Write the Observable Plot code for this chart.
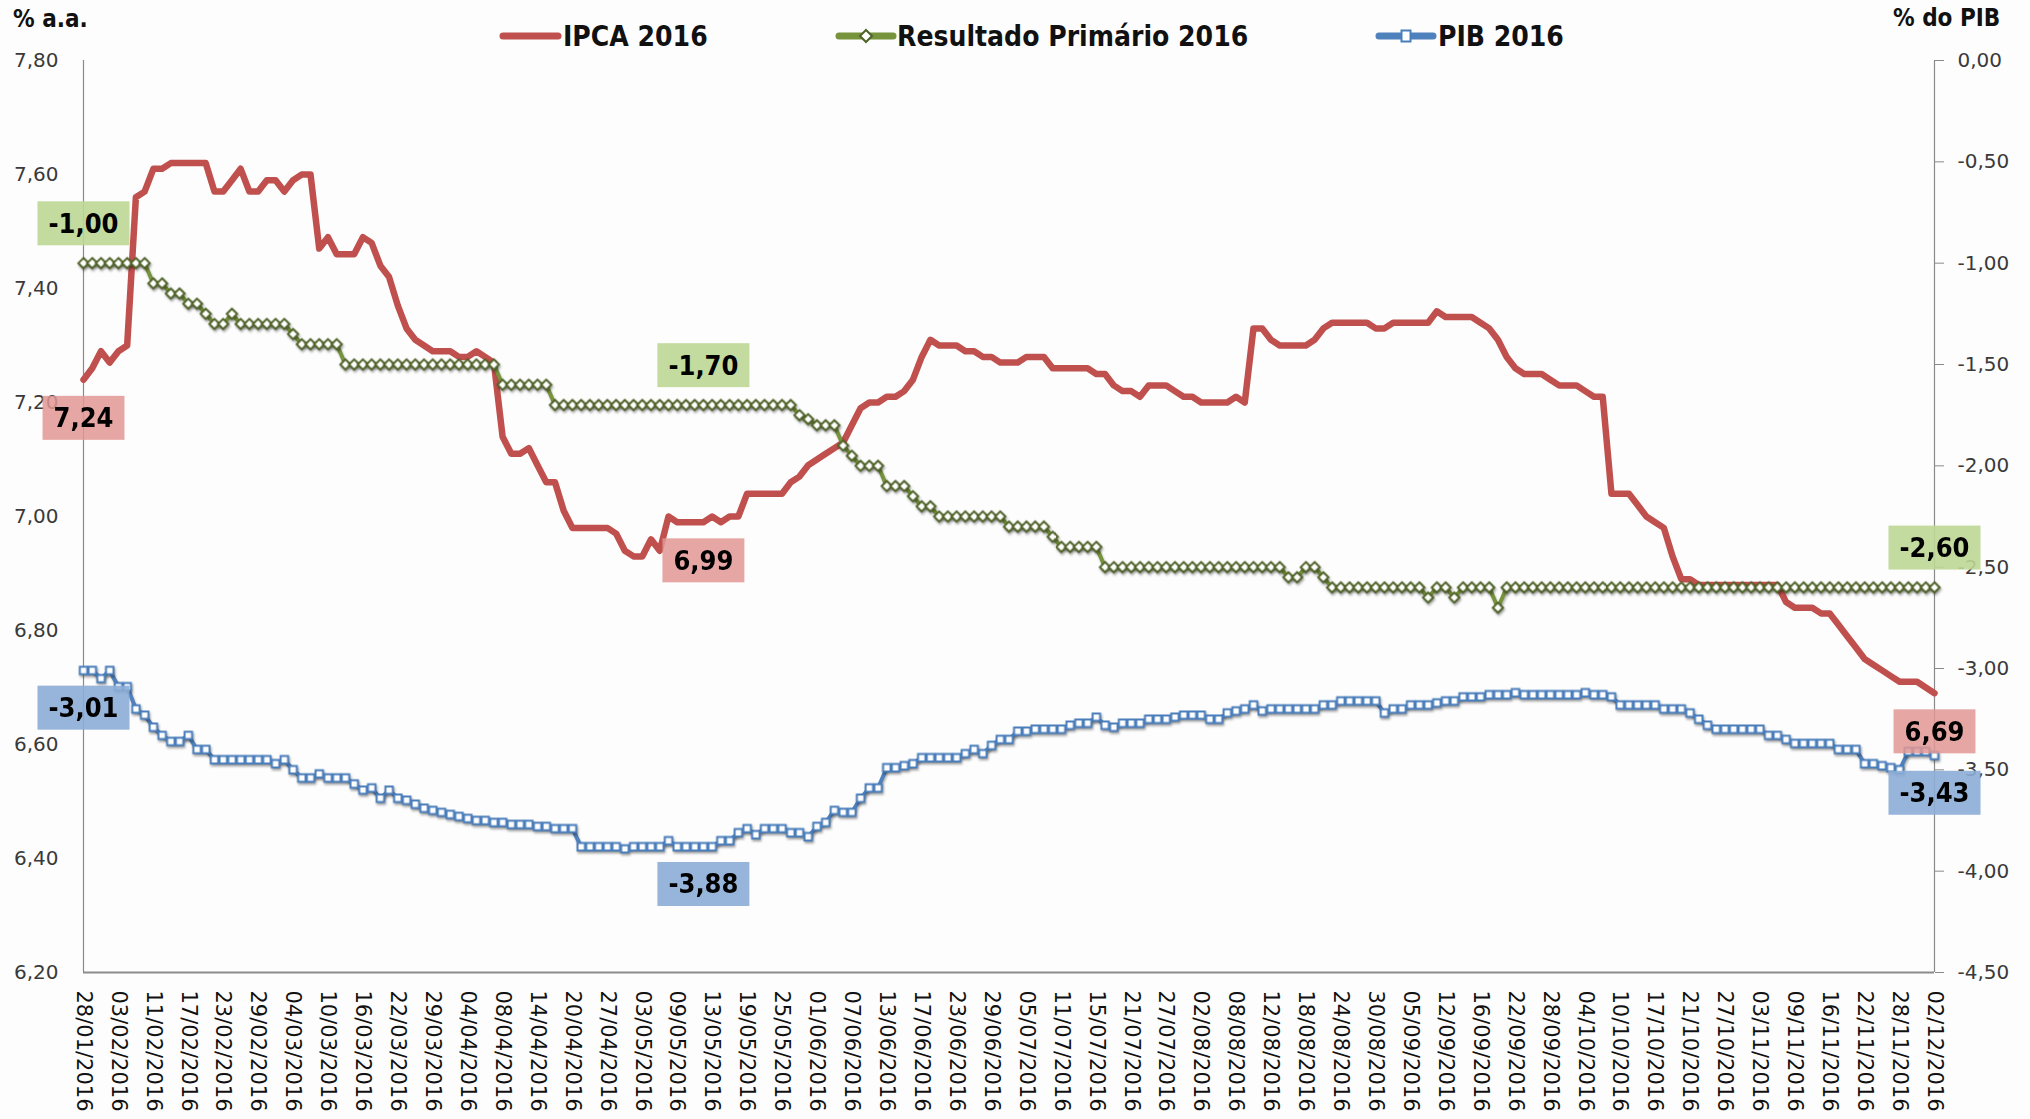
<!DOCTYPE html>
<html><head><meta charset="utf-8">
<script src="https://cdn.jsdelivr.net/npm/d3@7"></script>
<script src="https://cdn.jsdelivr.net/npm/@observablehq/plot@0.6"></script>
<style>
html,body{margin:0;padding:0;background:#fff;overflow:hidden;}
#wrap{position:relative;width:2030px;height:1119px;background:#fdfdfd;}
#overlay{position:absolute;left:0;top:0;}
</style></head><body><div id="wrap"></div>
<script>
// Business days of the series (categories)
const dates = [
"28/01/2016","29/01/2016",
"01/02/2016","02/02/2016","03/02/2016","04/02/2016","05/02/2016","10/02/2016","11/02/2016","12/02/2016","15/02/2016","16/02/2016","17/02/2016","18/02/2016","19/02/2016","22/02/2016","23/02/2016","24/02/2016","25/02/2016","26/02/2016","29/02/2016",
"01/03/2016","02/03/2016","03/03/2016","04/03/2016","07/03/2016","08/03/2016","09/03/2016","10/03/2016","11/03/2016","14/03/2016","15/03/2016","16/03/2016","17/03/2016","18/03/2016","21/03/2016","22/03/2016","23/03/2016","24/03/2016","28/03/2016","29/03/2016","30/03/2016","31/03/2016",
"01/04/2016","04/04/2016","05/04/2016","06/04/2016","07/04/2016","08/04/2016","11/04/2016","12/04/2016","13/04/2016","14/04/2016","15/04/2016","18/04/2016","19/04/2016","20/04/2016","22/04/2016","25/04/2016","26/04/2016","27/04/2016","28/04/2016","29/04/2016",
"02/05/2016","03/05/2016","04/05/2016","05/05/2016","06/05/2016","09/05/2016","10/05/2016","11/05/2016","12/05/2016","13/05/2016","16/05/2016","17/05/2016","18/05/2016","19/05/2016","20/05/2016","23/05/2016","24/05/2016","25/05/2016","27/05/2016","30/05/2016","31/05/2016",
"01/06/2016","02/06/2016","03/06/2016","06/06/2016","07/06/2016","08/06/2016","09/06/2016","10/06/2016","13/06/2016","14/06/2016","15/06/2016","16/06/2016","17/06/2016","20/06/2016","21/06/2016","22/06/2016","23/06/2016","24/06/2016","27/06/2016","28/06/2016","29/06/2016","30/06/2016",
"01/07/2016","04/07/2016","05/07/2016","06/07/2016","07/07/2016","08/07/2016","11/07/2016","12/07/2016","13/07/2016","14/07/2016","15/07/2016","18/07/2016","19/07/2016","20/07/2016","21/07/2016","22/07/2016","25/07/2016","26/07/2016","27/07/2016","28/07/2016","29/07/2016",
"01/08/2016","02/08/2016","03/08/2016","04/08/2016","05/08/2016","08/08/2016","09/08/2016","10/08/2016","11/08/2016","12/08/2016","15/08/2016","16/08/2016","17/08/2016","18/08/2016","19/08/2016","22/08/2016","23/08/2016","24/08/2016","25/08/2016","26/08/2016","29/08/2016","30/08/2016","31/08/2016",
"01/09/2016","02/09/2016","05/09/2016","06/09/2016","08/09/2016","09/09/2016","12/09/2016","13/09/2016","14/09/2016","15/09/2016","16/09/2016","19/09/2016","20/09/2016","21/09/2016","22/09/2016","23/09/2016","26/09/2016","27/09/2016","28/09/2016","29/09/2016","30/09/2016",
"03/10/2016","04/10/2016","05/10/2016","06/10/2016","07/10/2016","10/10/2016","11/10/2016","13/10/2016","14/10/2016","17/10/2016","18/10/2016","19/10/2016","20/10/2016","21/10/2016","24/10/2016","25/10/2016","26/10/2016","27/10/2016","28/10/2016","31/10/2016",
"01/11/2016","03/11/2016","04/11/2016","07/11/2016","08/11/2016","09/11/2016","10/11/2016","11/11/2016","14/11/2016","16/11/2016","17/11/2016","18/11/2016","21/11/2016","22/11/2016","23/11/2016","24/11/2016","25/11/2016","28/11/2016","29/11/2016","30/11/2016",
"01/12/2016","02/12/2016"];

// IPCA 2016 expectation (% a.a., left axis)
const ipca = [
7.24,7.26,7.29,7.27,7.29,7.30,7.56,7.57,7.61,7.61,
7.62,7.62,7.62,7.62,7.62,7.57,7.57,7.59,7.61,7.57,
7.57,7.59,7.59,7.57,7.59,7.60,7.60,7.47,7.49,7.46,
7.46,7.46,7.49,7.48,7.44,7.42,7.37,7.33,7.31,7.30,
7.29,7.29,7.29,7.28,7.28,7.29,7.28,7.27,7.14,7.11,
7.11,7.12,7.09,7.06,7.06,7.01,6.98,6.98,6.98,6.98,
6.98,6.97,6.94,6.93,6.93,6.96,6.94,7.00,6.99,6.99,
6.99,6.99,7.00,6.99,7.00,7.00,7.04,7.04,7.04,7.04,
7.04,7.06,7.07,7.09,7.10,7.11,7.12,7.13,7.16,7.19,
7.20,7.20,7.21,7.21,7.22,7.24,7.28,7.31,7.30,7.30,
7.30,7.29,7.29,7.28,7.28,7.27,7.27,7.27,7.28,7.28,
7.28,7.26,7.26,7.26,7.26,7.26,7.25,7.25,7.23,7.22,
7.22,7.21,7.23,7.23,7.23,7.22,7.21,7.21,7.20,7.20,
7.20,7.20,7.21,7.20,7.33,7.33,7.31,7.30,7.30,7.30,
7.30,7.31,7.33,7.34,7.34,7.34,7.34,7.34,7.33,7.33,
7.34,7.34,7.34,7.34,7.34,7.36,7.35,7.35,7.35,7.35,
7.34,7.33,7.31,7.28,7.26,7.25,7.25,7.25,7.24,7.23,
7.23,7.23,7.22,7.21,7.21,7.04,7.04,7.04,7.02,7.00,
6.99,6.98,6.93,6.89,6.89,6.88,6.88,6.88,6.88,6.88,
6.88,6.88,6.88,6.88,6.88,6.85,6.84,6.84,6.84,6.83,
6.83,6.81,6.79,6.77,6.75,6.74,6.73,6.72,6.71,6.71,
6.71,6.70,6.69];

// Resultado Primário 2016 (% do PIB, right axis)
const primario = [
-1.00,-1.00,-1.00,-1.00,-1.00,-1.00,-1.00,-1.00,-1.10,-1.10,
-1.15,-1.15,-1.20,-1.20,-1.25,-1.30,-1.30,-1.25,-1.30,-1.30,
-1.30,-1.30,-1.30,-1.30,-1.35,-1.40,-1.40,-1.40,-1.40,-1.40,
-1.50,-1.50,-1.50,-1.50,-1.50,-1.50,-1.50,-1.50,-1.50,-1.50,
-1.50,-1.50,-1.50,-1.50,-1.50,-1.50,-1.50,-1.50,-1.60,-1.60,
-1.60,-1.60,-1.60,-1.60,-1.70,-1.70,-1.70,-1.70,-1.70,-1.70,
-1.70,-1.70,-1.70,-1.70,-1.70,-1.70,-1.70,-1.70,-1.70,-1.70,
-1.70,-1.70,-1.70,-1.70,-1.70,-1.70,-1.70,-1.70,-1.70,-1.70,
-1.70,-1.70,-1.75,-1.77,-1.80,-1.80,-1.80,-1.90,-1.95,-2.00,
-2.00,-2.00,-2.10,-2.10,-2.10,-2.15,-2.20,-2.20,-2.25,-2.25,
-2.25,-2.25,-2.25,-2.25,-2.25,-2.25,-2.30,-2.30,-2.30,-2.30,
-2.30,-2.35,-2.40,-2.40,-2.40,-2.40,-2.40,-2.50,-2.50,-2.50,
-2.50,-2.50,-2.50,-2.50,-2.50,-2.50,-2.50,-2.50,-2.50,-2.50,
-2.50,-2.50,-2.50,-2.50,-2.50,-2.50,-2.50,-2.50,-2.55,-2.55,
-2.50,-2.50,-2.55,-2.60,-2.60,-2.60,-2.60,-2.60,-2.60,-2.60,
-2.60,-2.60,-2.60,-2.60,-2.65,-2.60,-2.60,-2.65,-2.60,-2.60,
-2.60,-2.60,-2.70,-2.60,-2.60,-2.60,-2.60,-2.60,-2.60,-2.60,
-2.60,-2.60,-2.60,-2.60,-2.60,-2.60,-2.60,-2.60,-2.60,-2.60,
-2.60,-2.60,-2.60,-2.60,-2.60,-2.60,-2.60,-2.60,-2.60,-2.60,
-2.60,-2.60,-2.60,-2.60,-2.60,-2.60,-2.60,-2.60,-2.60,-2.60,
-2.60,-2.60,-2.60,-2.60,-2.60,-2.60,-2.60,-2.60,-2.60,-2.60,
-2.60,-2.60,-2.60];

// PIB 2016 (right axis)
const pib = [
-3.01,-3.01,-3.05,-3.01,-3.09,-3.09,-3.20,-3.23,-3.29,-3.33,
-3.36,-3.36,-3.33,-3.40,-3.40,-3.45,-3.45,-3.45,-3.45,-3.45,
-3.45,-3.45,-3.47,-3.45,-3.50,-3.54,-3.54,-3.52,-3.54,-3.54,
-3.54,-3.57,-3.60,-3.59,-3.64,-3.60,-3.64,-3.65,-3.67,-3.69,
-3.70,-3.71,-3.72,-3.73,-3.74,-3.75,-3.75,-3.76,-3.76,-3.77,
-3.77,-3.77,-3.78,-3.78,-3.79,-3.79,-3.79,-3.88,-3.88,-3.88,
-3.88,-3.88,-3.89,-3.88,-3.88,-3.88,-3.88,-3.85,-3.88,-3.88,
-3.88,-3.88,-3.88,-3.85,-3.85,-3.81,-3.79,-3.82,-3.79,-3.79,
-3.79,-3.81,-3.81,-3.83,-3.78,-3.76,-3.70,-3.71,-3.71,-3.64,
-3.59,-3.59,-3.49,-3.49,-3.48,-3.47,-3.44,-3.44,-3.44,-3.44,
-3.44,-3.42,-3.40,-3.42,-3.38,-3.35,-3.35,-3.31,-3.31,-3.30,
-3.30,-3.30,-3.30,-3.28,-3.27,-3.27,-3.24,-3.28,-3.29,-3.27,
-3.27,-3.27,-3.25,-3.25,-3.25,-3.24,-3.23,-3.23,-3.23,-3.25,
-3.25,-3.22,-3.21,-3.20,-3.18,-3.21,-3.20,-3.20,-3.20,-3.20,
-3.20,-3.20,-3.18,-3.18,-3.16,-3.16,-3.16,-3.16,-3.16,-3.22,
-3.20,-3.20,-3.18,-3.18,-3.18,-3.17,-3.16,-3.16,-3.14,-3.14,
-3.14,-3.13,-3.13,-3.13,-3.12,-3.13,-3.13,-3.13,-3.13,-3.13,
-3.13,-3.13,-3.12,-3.13,-3.13,-3.14,-3.18,-3.18,-3.18,-3.18,
-3.18,-3.20,-3.20,-3.20,-3.22,-3.25,-3.28,-3.30,-3.30,-3.30,
-3.30,-3.30,-3.30,-3.33,-3.33,-3.35,-3.37,-3.37,-3.37,-3.37,
-3.37,-3.40,-3.40,-3.40,-3.47,-3.47,-3.48,-3.49,-3.50,-3.41,
-3.41,-3.41,-3.43];

const leftTicks = [6.20,6.40,6.60,6.80,7.00,7.20,7.40,7.60,7.80];
const rightTicks = [0,-0.5,-1,-1.5,-2,-2.5,-3,-3.5,-4,-4.5];
const labelIdx = [0, 71, 212];
const tickIdx = d3.range(0, dates.length, 4);

const W = 2030, H = 1119;
const L = 83, R = 1934, T = 60, B = 972;
const k = (7.80 - 6.20) / 4.5;
const toLeft = r => 7.80 + r * k;
const fromLeft = v => Math.round(((v - 7.80) / k) * 100) / 100;
const fmt = v => (Math.abs(v) < 1e-9 ? 0 : v).toFixed(2).replace(".", ",");

const rows = dates.map((d, i) => ({i, d, ipca: ipca[i], prim: primario[i], pib: pib[i]}));
const labRows = labelIdx.map(i => rows[i]);

const plot = Plot.plot({
  width: W, height: H,
  marginLeft: L, marginRight: W - R, marginTop: T, marginBottom: H - B,
  x: {type: "linear", domain: [0, dates.length - 1], axis: null, label: null},
  y: {domain: [6.2, 7.8], axis: null, label: null},
  style: {fontFamily: "DejaVu Sans", fontSize: "20px", color: "#404040", background: "transparent", overflow: "visible"},
  marks: [
    Plot.ruleX([0], {stroke: "#8a8a8a", strokeWidth: 1.2}),
    Plot.ruleX([dates.length - 1], {stroke: "#8a8a8a", strokeWidth: 1.2}),
    Plot.axisY({anchor: "left", label: null, ticks: leftTicks, tickFormat: fmt, tickSize: 0, tickPadding: 25, fontSize: 20, fill: "#3a3a3a"}),
    Plot.axisY({anchor: "right", label: null, ticks: rightTicks.map(toLeft), tickFormat: v => fmt(fromLeft(v)), tickSize: 9, tickPadding: 14, stroke: "#8a8a8a", fontSize: 20, fill: "#3a3a3a"}),
    Plot.axisX({anchor: "bottom", label: null, ticks: tickIdx, tickFormat: i => dates[i], tickRotate: 90, tickSize: 0, tickPadding: 18, fontSize: 21, fill: "#111"}),
    Plot.ruleY([6.2], {stroke: "#8c8c8c", strokeWidth: 2.2}),
    Plot.line(rows, {x: "i", y: "ipca", stroke: "#c0504d", strokeWidth: 6.5, strokeLinejoin: "round", strokeLinecap: "round"}),
    Plot.line(rows, {x: "i", y: d => toLeft(d.prim), stroke: "#77933c", strokeWidth: 4, strokeLinejoin: "round"}),
    Plot.dot(rows, {x: "i", y: d => toLeft(d.prim), symbol: "diamond2", r: 4.6, fill: "white", stroke: "#4f6228", strokeWidth: 2}),
    Plot.line(rows, {x: "i", y: d => toLeft(d.pib), stroke: "#4f81bd", strokeWidth: 4, strokeLinejoin: "round"}),
    Plot.dot(rows, {x: "i", y: d => toLeft(d.pib), symbol: "square", r: 4.2, fill: "white", stroke: "#4a7ebb", strokeWidth: 2}),
    Plot.text(labRows, {x: "i", y: "ipca", text: d => fmt(d.ipca), dy: 39, fontWeight: "bold", fontSize: 27, fill: "#000"}),
    Plot.text(labRows, {x: "i", y: d => toLeft(d.prim), text: d => fmt(d.prim), dy: -39, fontWeight: "bold", fontSize: 27, fill: "#000"}),
    Plot.text(labRows, {x: "i", y: d => toLeft(d.pib), text: d => fmt(d.pib), dy: 38, fontWeight: "bold", fontSize: 27, fill: "#000"})
  ]
});

const wrap = document.getElementById("wrap");
wrap.appendChild(plot);

const cond = "'DejaVu Sans Condensed', 'DejaVu Sans', sans-serif";
plot.querySelectorAll('g[aria-label="dot"]').forEach(g => g.style.filter = "drop-shadow(1px 2px 1.2px rgba(0,0,0,0.35))");
const lines = plot.querySelectorAll('g[aria-label="line"]');
lines.forEach((g, j) => { if (j > 0) g.style.filter = "drop-shadow(1px 2px 1.2px rgba(0,0,0,0.3))"; });

// boxes behind data labels
const boxColors = ["rgba(224,150,148,0.85)", "rgba(190,215,150,0.9)", "rgba(140,173,214,0.9)"];
const svgns = "http://www.w3.org/2000/svg";
plot.querySelectorAll('g[aria-label="text"]').forEach((g, j) => {
  g.querySelectorAll("text").forEach(t => {
    t.style.fontFamily = cond;
    t.style.fontStretch = "condensed";
    const b = t.getBBox();
    const r = document.createElementNS(svgns, "rect");
    const w = b.width + 22, h = 44;
    r.setAttribute("x", b.x + b.width / 2 - w / 2);
    r.setAttribute("y", b.y + b.height / 2 - h / 2);
    r.setAttribute("width", w);
    r.setAttribute("height", h);
    r.setAttribute("fill", boxColors[j]);
    if (t.getAttribute("transform")) r.setAttribute("transform", t.getAttribute("transform"));
    g.insertBefore(r, t);
  });
});

// header: axis titles and legend
const ov = d3.select(wrap).append("svg").attr("id", "overlay").attr("width", W).attr("height", 60);
const bold = sel => sel.attr("font-family", cond).style("font-stretch", "condensed").attr("font-weight", "bold").attr("fill", "#111");
bold(ov.append("text").attr("x", 13).attr("y", 27).attr("font-size", 24).text("% a.a."));
bold(ov.append("text").attr("x", 1893).attr("y", 26).attr("font-size", 24).text("% do PIB"));

const legend = [
  {name: "IPCA 2016", x0: 503, x1: 558, tx: 563, color: "#c0504d", sym: null},
  {name: "Resultado Primário 2016", x0: 839, x1: 893, tx: 897, color: "#77933c", sym: "diamond", sc: "#4f6228"},
  {name: "PIB 2016", x0: 1379, x1: 1433, tx: 1438, color: "#4f81bd", sym: "square", sc: "#4a7ebb"}
];
legend.forEach(it => {
  ov.append("line").attr("x1", it.x0).attr("x2", it.x1).attr("y1", 36).attr("y2", 36)
    .attr("stroke", it.color).attr("stroke-width", 7).attr("stroke-linecap", "round");
  const cx = (it.x0 + it.x1) / 2;
  if (it.sym === "diamond") {
    ov.append("path").attr("d", `M${cx},${36-6}L${cx+6},36L${cx},${36+6}L${cx-6},36Z`).attr("fill", "white").attr("stroke", it.sc).attr("stroke-width", 2);
  } else if (it.sym === "square") {
    ov.append("rect").attr("x", cx - 4.5).attr("y", 36 - 5.5).attr("width", 9).attr("height", 11).attr("fill", "white").attr("stroke", it.sc).attr("stroke-width", 2);
  }
  bold(ov.append("text").attr("x", it.tx).attr("y", 46).attr("font-size", 28).text(it.name));
});
</script></body></html>
